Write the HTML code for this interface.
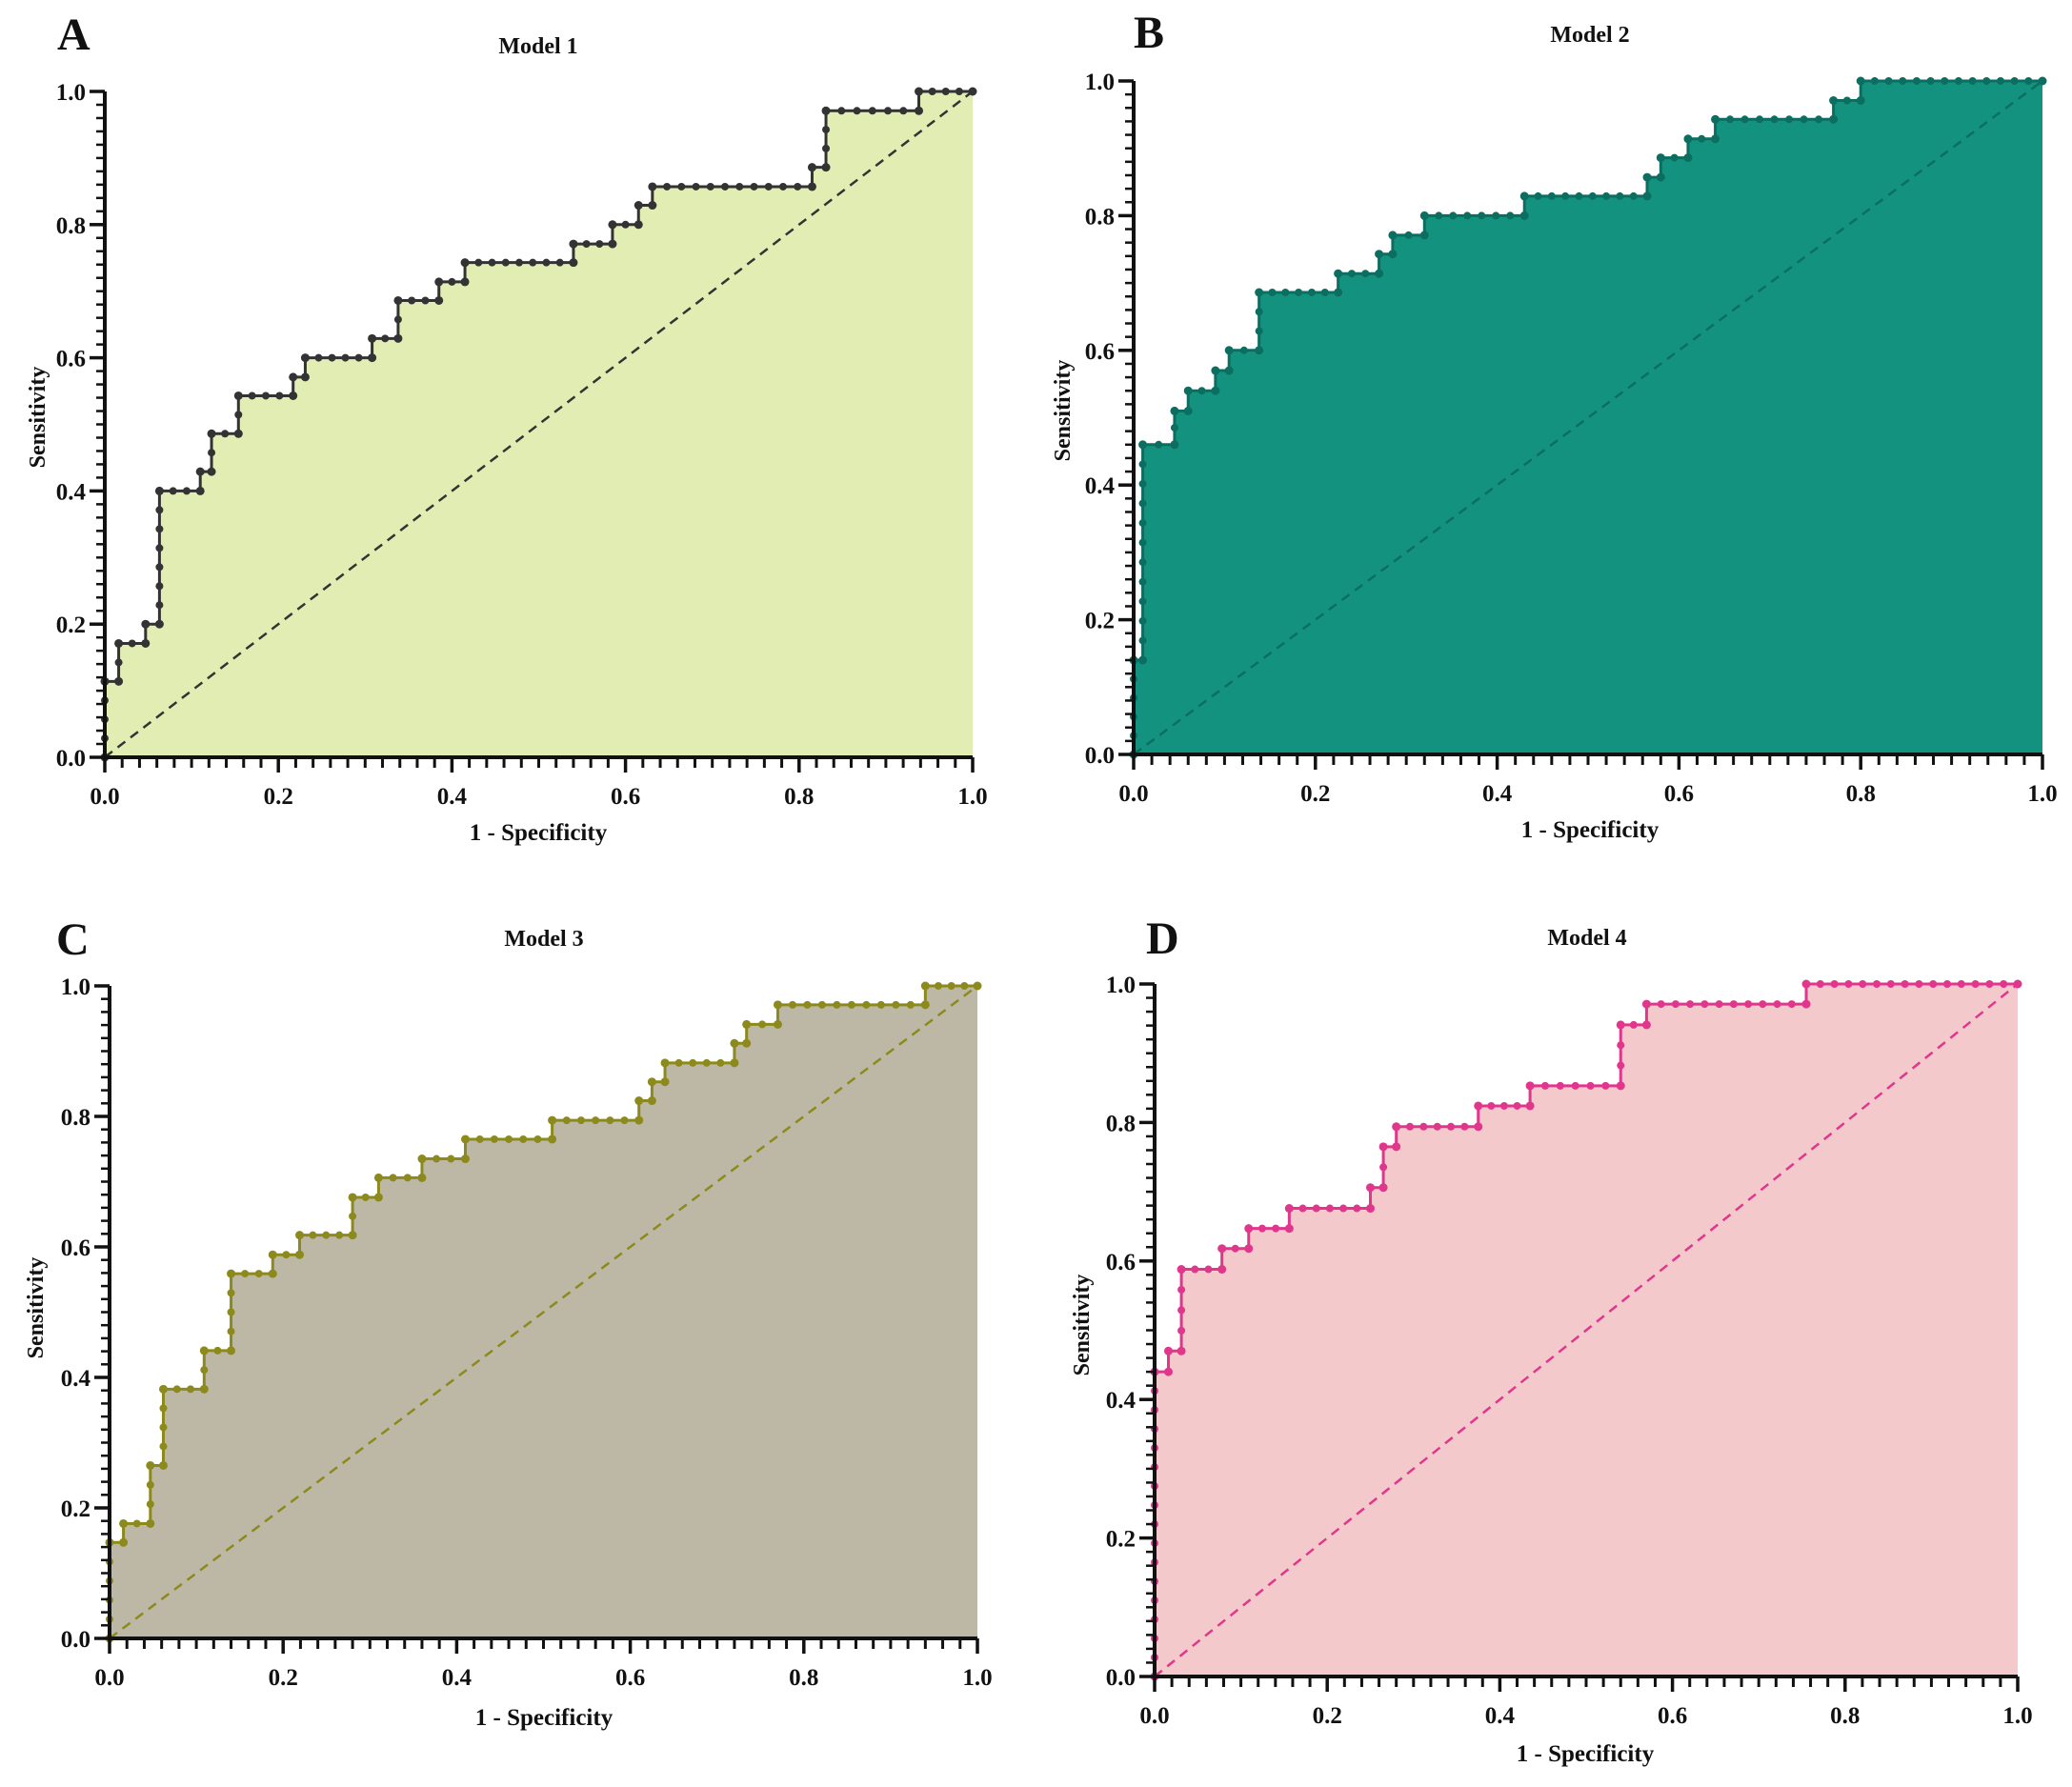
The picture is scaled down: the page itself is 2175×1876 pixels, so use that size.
<!DOCTYPE html>
<html><head><meta charset="utf-8"><style>
html,body{margin:0;padding:0;background:#fff;}
svg{display:block;font-family:"Liberation Serif",serif;font-weight:bold;}
</style></head><body>
<svg id="chart" width="2175" height="1876" viewBox="0 0 2175 1876" xmlns="http://www.w3.org/2000/svg"></svg>
<script>
const xTicks=["0.0","0.2","0.4","0.6","0.8","1.0"];
const yTicks=["0.0","0.2","0.4","0.6","0.8","1.0"];
const modelNames=["Model 1","Model 2","Model 3","Model 4"];
const panelLetters=["A","B","C","D"];
const m1Fpr=[0,0,0.016,0.016,0.047,0.047,0.063,0.063,0.11,0.11,0.123,0.123,0.154,0.154,0.217,0.217,0.231,0.231,0.308,0.308,0.338,0.338,0.385,0.385,0.415,0.415,0.54,0.54,0.585,0.585,0.615,0.615,0.631,0.631,0.815,0.815,0.831,0.831,0.938,0.938,1.0];
const m1Tpr=[0,0.114,0.114,0.171,0.171,0.2,0.2,0.4,0.4,0.429,0.429,0.486,0.486,0.543,0.543,0.571,0.571,0.6,0.6,0.629,0.629,0.686,0.686,0.714,0.714,0.743,0.743,0.771,0.771,0.8,0.8,0.829,0.829,0.857,0.857,0.886,0.886,0.971,0.971,1.0,1.0];
const m2Fpr=[0,0,0.01,0.01,0.045,0.045,0.06,0.06,0.09,0.09,0.105,0.105,0.138,0.138,0.225,0.225,0.27,0.27,0.285,0.285,0.32,0.32,0.43,0.43,0.565,0.565,0.58,0.58,0.61,0.61,0.64,0.64,0.77,0.77,0.8,0.8,1.0];
const m2Tpr=[0,0.14,0.14,0.46,0.46,0.51,0.51,0.54,0.54,0.57,0.57,0.6,0.6,0.686,0.686,0.714,0.714,0.743,0.743,0.771,0.771,0.8,0.8,0.829,0.829,0.857,0.857,0.886,0.886,0.914,0.914,0.943,0.943,0.971,0.971,1.0,1.0];
const m3Fpr=[0,0,0.016,0.016,0.047,0.047,0.062,0.062,0.109,0.109,0.14,0.14,0.188,0.188,0.219,0.219,0.28,0.28,0.31,0.31,0.36,0.36,0.41,0.41,0.51,0.51,0.61,0.61,0.625,0.625,0.64,0.64,0.72,0.72,0.734,0.734,0.77,0.77,0.94,0.94,1.0];
const m3Tpr=[0,0.147,0.147,0.176,0.176,0.265,0.265,0.382,0.382,0.441,0.441,0.559,0.559,0.588,0.588,0.618,0.618,0.676,0.676,0.706,0.706,0.735,0.735,0.765,0.765,0.794,0.794,0.824,0.824,0.853,0.853,0.882,0.882,0.912,0.912,0.941,0.941,0.971,0.971,1.0,1.0];
const m4Fpr=[0,0,0.016,0.016,0.031,0.031,0.078,0.078,0.109,0.109,0.156,0.156,0.25,0.25,0.265,0.265,0.28,0.28,0.375,0.375,0.435,0.435,0.54,0.54,0.57,0.57,0.755,0.755,1.0];
const m4Tpr=[0,0.44,0.44,0.47,0.47,0.588,0.588,0.618,0.618,0.647,0.647,0.676,0.676,0.706,0.706,0.765,0.765,0.794,0.794,0.824,0.824,0.853,0.853,0.941,0.941,0.971,0.971,1.0,1.0];

const NS="http://www.w3.org/2000/svg";
const svg=document.getElementById('chart');
function mk(tag,attrs,parent){const e=document.createElementNS(NS,tag);for(const k in attrs)e.setAttribute(k,attrs[k]);(parent||svg).appendChild(e);return e;}

const panels=[
 {x0:110,x1:1021,yt:96,yb:795,fpr:m1Fpr,tpr:m1Tpr,fill:"#e2edb4",line:"#333333",letter:[60,52],title:[565,56],xl:[565,882],yl:[39,438]},
 {x0:1190,x1:2144,yt:85,yb:792,fpr:m2Fpr,tpr:m2Tpr,fill:"#13937f",line:"#0c6e60",letter:[1190,50],title:[1669,44],xl:[1669,879],yl:[1115,431]},
 {x0:115,x1:1026,yt:1035,yb:1720,fpr:m3Fpr,tpr:m3Tpr,fill:"#bdb8a6",line:"#8c8a1c",letter:[59,1002],title:[571,993],xl:[571,1811],yl:[37,1373]},
 {x0:1212,x1:2118,yt:1033,yb:1760,fpr:m4Fpr,tpr:m4Tpr,fill:"#f4c9cb",line:"#e0368c",letter:[1203,1001],title:[1666,992],xl:[1664,1849],yl:[1135,1391]}
];

panels.forEach((p,i)=>{
 const g=mk('g',{});
 
 
 const sx=v=>p.x0+v*(p.x1-p.x0);
 const sy=v=>p.yb-v*(p.yb-p.yt);
 let d='M'+sx(0)+','+sy(0);
 p.fpr.forEach((f,j)=>{d+=' L'+sx(f)+','+sy(p.tpr[j]);});
 d+=' L'+sx(1)+','+sy(0)+' Z';
 const area=mk('path',{d:d,fill:p.fill,stroke:'none'},g);
 
 
 const diag=mk('line',{x1:sx(0),y1:sy(0),x2:sx(1),y2:sy(1),stroke:p.line,'stroke-width':2.5,'stroke-dasharray':'10,7'},g);
 
 
 let cd='';
 p.fpr.forEach((f,j)=>{cd+=(j?' L':'M')+sx(f)+','+sy(p.tpr[j]);});
 const curve=mk('path',{d:cd,fill:'none',stroke:p.line,'stroke-width':3},g);
 
 
 for(let j=0;j<p.fpr.length;j++){
  const ax=sx(p.fpr[j]),ay=sy(p.tpr[j]);
  const c=mk('circle',{cx:ax,cy:ay,r:4.5,fill:p.line},g);
  
  
  if(j+1<p.fpr.length){
   const bx=sx(p.fpr[j+1]),by=sy(p.tpr[j+1]);
   const len=Math.hypot(bx-ax,by-ay);
   const n=Math.round(len/(by!==ay?20:15));
   for(let k=1;k<n;k++){
    const c2=mk('circle',{cx:ax+(bx-ax)*k/n,cy:ay+(by-ay)*k/n,r:4,fill:p.line},g);
    
    
   }
  }
 }
 const ya=mk('line',{x1:p.x0,y1:p.yt,x2:p.x0,y2:p.yb+2,stroke:'#111','stroke-width':4},g);
 
 
 const xa=mk('line',{x1:p.x0-2,y1:p.yb,x2:p.x1,y2:p.yb,stroke:'#111','stroke-width':4},g);
 
 
 for(let k=0;k<=50;k++){
  const v=k/50,major=k%10===0;
  const tx=mk('line',{x1:sx(v),y1:p.yb,x2:sx(v),y2:p.yb+(major?16:11),stroke:'#111','stroke-width':major?3.5:3},g);
  
  
  const ty=mk('line',{x1:p.x0,y1:sy(v),x2:p.x0-(major?16:9),y2:sy(v),stroke:'#111','stroke-width':major?3.5:2.5},g);
  
  
 }
 xTicks.forEach((t,k)=>{
  const e=mk('text',{x:sx(k/5),y:p.yb+49,'text-anchor':'middle','font-size':25,fill:'#111'},g);
  e.textContent=t;
  
  
 });
 yTicks.forEach((t,k)=>{
  const e=mk('text',{x:p.x0-20,y:sy(k/5)+9,'text-anchor':'end','font-size':25,fill:'#111'},g);
  e.textContent=t;
  
  
 });
 const xl=mk('text',{x:p.xl[0],y:p.xl[1],'text-anchor':'middle','font-size':25,fill:'#111'},g);
 xl.textContent='1 - Specificity';
 
 
 const yl=mk('text',{x:p.yl[0],y:p.yl[1],'text-anchor':'middle','font-size':24,fill:'#111',transform:'rotate(-90 '+p.yl[0]+' '+p.yl[1]+')',dy:8},g);
 yl.textContent='Sensitivity';
 
 
 const tt=mk('text',{x:p.title[0],y:p.title[1],'text-anchor':'middle','font-size':24,fill:'#111'},g);
 tt.textContent=modelNames[i];
 
 
 const lt=mk('text',{x:p.letter[0],y:p.letter[1],'font-size':48,fill:'#111'},g);
 lt.textContent=panelLetters[i];
 
 
});
</script>
</body></html>
